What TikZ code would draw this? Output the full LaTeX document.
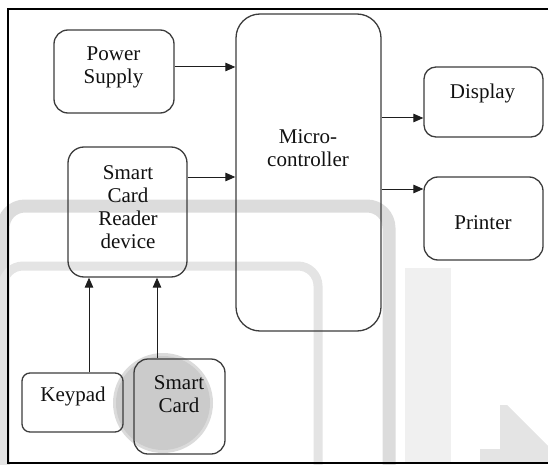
\documentclass[tikz,border=0pt]{standalone}
\usepackage{fontspec}
\setmainfont{Liberation Serif}
\newfontfamily\boxfont{Liberation Serif}
\usetikzlibrary{arrows.meta}
\definecolor{boxedge}{HTML}{3C3C3C}
\definecolor{linkcol}{HTML}{1E1E1E}
\definecolor{txtcol}{HTML}{111111}
\definecolor{wmdark}{HTML}{DCDCDC}
\definecolor{wmmid}{HTML}{E4E4E4}
\definecolor{wmlight}{HTML}{F0F0F0}
\definecolor{cardgray}{HTML}{CBCBCB}
\begin{document}
\begin{tikzpicture}[x=1pt,y=-1pt,
  blk/.style={draw=boxedge, line width=1.3pt, inner sep=0pt, rounded corners=#1},
  blk/.default=14pt,
  txt/.style={font=\boxfont\fontsize{21}{23}\selectfont, align=center, inner sep=0pt, text=txtcol},
  link/.style={draw=linkcol, line width=1pt, -{Triangle[length=10pt,width=8.5pt]}}
]
\useasboundingbox (0,0) rectangle (548,465);

% faint background marks
\fill[wmlight] (405,268) rectangle (451,463);
\fill[wmmid] (500,405) -- (507,405) -- (548,446) -- (548,463) -- (480,463) -- (480,449) -- (500,449) -- cycle;
\draw[wmdark, line width=13pt, rounded corners=22pt] (3,475) -- (3,206) -- (389,206) -- (389,475);
\draw[wmmid, line width=9pt, rounded corners=20pt] (3,475) -- (3,266) -- (318,266) -- (318,475);

% shaded disc behind the card
\fill[cardgray!70] (163,403) circle (50);
\fill[cardgray] (163,403) circle (47);

% outer frame (open on the right)
\draw[black, line width=2pt] (549,9.5) -- (7.5,9.5) -- (7.5,462.5) -- (549,462.5);

% blocks
\node[blk, minimum width=120pt, minimum height=83pt] (pwr) at (114,71.5) {};
\node[blk=16pt, minimum width=119pt, minimum height=130pt] (rdr) at (127.5,212) {};
\node[blk=24pt, minimum width=145pt, minimum height=317pt] (mcu) at (308.5,172.5) {};
\node[blk=12pt, minimum width=119pt, minimum height=70pt] (dsp) at (483.5,102) {};
\node[blk=14pt, minimum width=119pt, minimum height=83pt] (prn) at (483.5,218.5) {};
\node[blk=8pt, minimum width=101pt, minimum height=59pt] (key) at (72.5,402.5) {};
\node[blk=14pt, minimum width=91pt, minimum height=95pt] (crd) at (179.5,406.5) {};

% block labels
\node[txt] (pwrtxt) at (113.5,67.5) {Power\\Supply};
\node[txt] (rdrtxt) at (128,207) {Smart\\Card\\Reader\\device};
\node[txt] (mcutxt) at (308,148) {Micro-\\controller};
\node[txt] (dsptxt) at (482.5,93) {Display};
\node[txt] (prntxt) at (483,222.5) {Printer};
\node[txt] (keytxt) at (73,396) {Keypad};
\node[txt] (crdtxt) at (179,394) {Smart\\Card};

% connectors
\coordinate (pwrout) at ([yshift=4.5pt]pwr.east);
\coordinate (rdrout) at ([yshift=35pt]rdr.east);
\coordinate (dspin) at ([yshift=-16pt]dsp.west);
\coordinate (prnin) at ([yshift=29.5pt]prn.west);
\coordinate (keyout) at ([xshift=16.5pt]key.north);
\coordinate (crdout) at ([xshift=-22.5pt]crd.north);

\draw[link] (pwrout) -- (pwrout -| mcu.west);
\draw[link] (rdrout) -- (rdrout -| mcu.west);
\draw[link] (dspin -| mcu.east) -- (dspin);
\draw[link] (prnin -| mcu.east) -- (prnin);
\draw[link] (keyout) -- (keyout |- rdr.south);
\draw[link] (crdout) -- (crdout |- rdr.south);
\end{tikzpicture}
\end{document}
